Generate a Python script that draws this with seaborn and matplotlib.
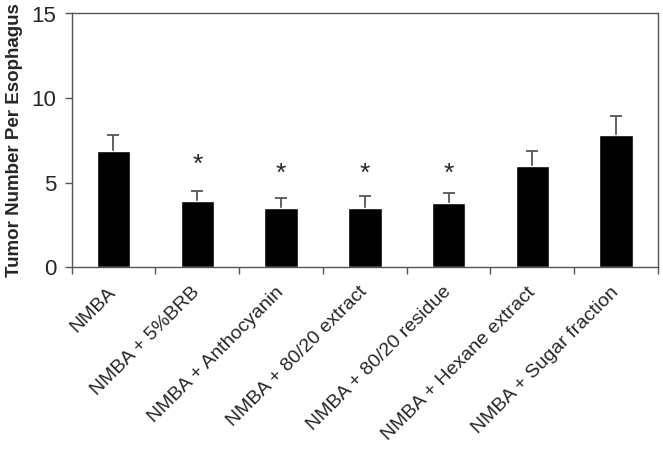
import numpy as np
import pandas as pd
import seaborn as sns
import matplotlib.pyplot as plt
import matplotlib.transforms as mtransforms

# values
groups = ['NMBA', 'NMBA + 5%BRB', 'NMBA + Anthocyanin', 'NMBA + 80/20 extract',
          'NMBA + 80/20 residue', 'NMBA + Hexane extract', 'NMBA + Sugar fraction']
tumors = [6.88, 3.94, 3.53, 3.53, 3.79, 6.00, 7.82]
sem = [0.92, 0.59, 0.55, 0.71, 0.61, 0.89, 1.14]
significant = [False, True, True, True, True, False, False]
star_height = [0, 6.05, 5.5, 5.5, 5.5, 0, 0]

df = pd.DataFrame({'group': groups, 'tumors': tumors, 'err': sem})

sns.set_style('white')
plt.rcParams['font.family'] = ['Liberation Sans', 'DejaVu Sans']

fig = plt.figure(figsize=(6.63, 4.5), dpi=100)
ax = fig.add_axes([0.108, 0.406, 0.8845, 0.564])

# upper-only error bars, drawn under the bars
eb = ax.errorbar(np.arange(len(groups)), df['tumors'], yerr=[np.zeros(len(groups)), df['err']],
                 fmt='none', ecolor='#555555', elinewidth=1.3, capsize=4.5, capthick=1.3, zorder=1)
eb[1][0].set_visible(False)

sns.barplot(data=df, x='group', y='tumors', color='black', width=0.4,
            errorbar=None, saturation=1, ax=ax, zorder=2)

# significance stars
for i, sig in enumerate(significant):
    if sig:
        ax.text(i, star_height[i], '*', ha='center', va='center', fontsize=19)

ax.set_ylim(0, 15)
ax.set_xlim(-0.5, len(groups) - 0.5)
ax.set_yticks([0, 5, 10, 15])
ax.tick_params(axis='y', labelsize=16, length=5, width=1, color='#555555', left=True, pad=6)

# category labels centred, tick marks on the category boundaries
ax.set_xticks(np.arange(len(groups)))
ax.set_xticklabels(groups, rotation=45, ha='right', va='center',
                   rotation_mode='anchor', fontsize=14)
shift = mtransforms.ScaledTranslation(-8 / 100, 0, fig.dpi_scale_trans)
for lab in ax.get_xticklabels():
    lab.set_transform(lab.get_transform() + shift)
ax.set_xticks(np.arange(-0.5, len(groups)), minor=True)
ax.tick_params(axis='x', which='major', length=0, pad=16)
ax.tick_params(axis='x', which='minor', length=5, width=1, color='#555555', bottom=True)

ax.set_xlabel('')
ax.set_ylabel('Tumor Number Per Esophagus', fontsize=13.5, fontweight='bold', labelpad=6)

for side in ['left', 'right', 'top', 'bottom']:
    ax.spines[side].set_visible(True)
    ax.spines[side].set_color('#555555')
    ax.spines[side].set_linewidth(1)

fig.savefig('out.png', dpi=100)
